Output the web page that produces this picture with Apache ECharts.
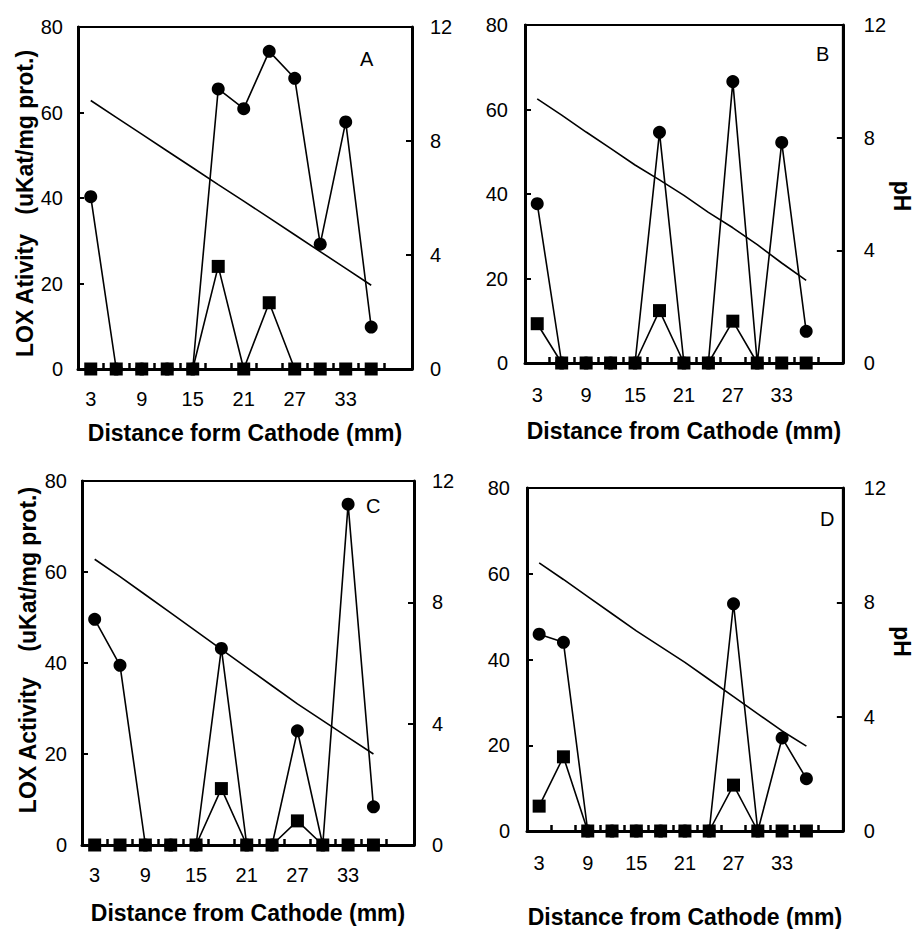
<!DOCTYPE html>
<html><head><meta charset="utf-8">
<script src="https://cdn.jsdelivr.net/npm/echarts@6/dist/echarts.min.js"></script>
<style>html,body{margin:0;padding:0;background:#fff}#c{width:914px;height:929px}</style>
</head><body><div id="c"></div>
<script>
// ---- data ----
const distance = [3, 6, 9, 12, 15, 18, 21, 24, 27, 30, 33, 36];
const xTickValues = [4.5, 7.5, 10.5, 13.5, 16.5, 19.5, 22.5, 25.5, 28.5, 31.5, 34.5, 37.5];
const xLabelValues = [3, 9, 15, 21, 27, 33];
const loxTicks = [0, 20, 40, 60, 80];
const pHTicks = [0, 4, 8, 12];

const circlesA = [40.3, 0, 0, 0, 0, 65.5, 60.9, 74.3, 68.0, 29.2, 57.8, 9.8];
const squaresA = [0, 0, 0, 0, 0, 24.0, 0, 15.5, 0, 0, 0, 0];
const pHA = [9.42, 8.83, 8.24, 7.65, 7.06, 6.47, 5.89, 5.30, 4.71, 4.12, 3.53, 2.94];

const circlesB = [37.7, 0, 0, 0, 0, 54.6, 0, 0, 66.6, 0, 52.2, 7.5];
const squaresB = [9.3, 0, 0, 0, 0, 12.4, 0, 0, 9.9, 0, 0, 0];
const pHB = [9.38, 8.80, 8.20, 7.62, 7.03, 6.50, 5.95, 5.35, 4.80, 4.20, 3.55, 2.93];

const circlesC = [49.6, 39.5, 0, 0, 0, 43.2, 0, 0, 25.1, 0, 74.9, 8.4];
const squaresC = [0, 0, 0, 0, 0, 12.4, 0, 0, 5.3, 0, 0, 0];
const pHC = [9.42, 8.85, 8.25, 7.65, 7.05, 6.45, 5.85, 5.25, 4.65, 4.10, 3.55, 3.00];

const circlesD = [45.9, 44.0, 0, 0, 0, 0, 0, 0, 53.0, 0, 21.7, 12.2];
const squaresD = [5.8, 17.3, 0, 0, 0, 0, 0, 0, 10.7, 0, 0, 0];
const pHD = [9.38, 8.80, 8.20, 7.60, 7.00, 6.45, 5.90, 5.30, 4.70, 4.10, 3.50, 2.97];

const panelLetters = ['A', 'B', 'C', 'D'];
const xTitles = ['Distance form Cathode (mm)', 'Distance from Cathode (mm)', 'Distance from Cathode (mm)', 'Distance from Cathode (mm)'];
const yTitles = ['LOX Ativity   (uKat/mg prot.)', '', 'LOX Activity    (uKat/mg prot.)', ''];
const y2Titles = ['', 'pH', '', 'pH'];

// ---- layout ----
const FONT = "'Liberation Sans', Arial, sans-serif";
const layouts = [
  {left: 78, top: 27, width: 334, height: 342, xmax: 40.8, xLabelMargin: 20, xNameGap: 52, yNameGap: 41, y2NameGap: 38, letter: [367, 60], lMargin: 15, rMargin: 18, yPad: [0, 11, 0, 0], y2Pad: [0,0,0,0]},
  {left: 525, top: 25, width: 319, height: 338, xmax: 40.5, xLabelMargin: 22, xNameGap: 56, yNameGap: 41, y2NameGap: 38, letter: [823, 55], lMargin: 17, rMargin: 21, yPad: [0,0,0,0], y2Pad: [0,0,0,4]},
  {left: 82, top: 481, width: 332, height: 364, xmax: 40.8, xLabelMargin: 20, xNameGap: 56, yNameGap: 43, y2NameGap: 38, letter: [373, 507], lMargin: 15, rMargin: 18, yPad: [0, 0, 0, 26], y2Pad: [0,0,0,0]},
  {left: 527, top: 488, width: 327, height: 343, xmax: 40.5, xLabelMargin: 22, xNameGap: 74, yNameGap: 41, y2NameGap: 40, letter: [827, 520], lMargin: 17, rMargin: 21, yPad: [0,0,0,0], y2Pad: [0,36,0,0]}
];
const datasets = [
  [circlesA, squaresA, pHA],
  [circlesB, squaresB, pHB],
  [circlesC, squaresC, pHC],
  [circlesD, squaresD, pHD]
];

const grids = [], xAxes = [], yAxes = [], series = [], graphics = [];
const black = '#000';
layouts.forEach((L, i) => {
  grids.push({left: L.left, top: L.top, width: L.width, height: L.height, show: true,
    borderColor: black, borderWidth: 2, backgroundColor: 'transparent', containLabel: false});
  xAxes.push({
    gridIndex: i, type: 'value', min: 1.5, max: L.xmax,
    axisLine: {show: true, onZero: false, lineStyle: {color: black, width: 3}},
    axisTick: {show: true, inside: true, length: 6, customValues: xTickValues, lineStyle: {color: black, width: 2.5}},
    axisLabel: {show: true, customValues: xLabelValues, margin: L.xLabelMargin, fontSize: 20, color: black, fontFamily: FONT},
    splitLine: {show: false},
    name: xTitles[i], nameLocation: 'middle', nameGap: L.xNameGap,
    nameTextStyle: {fontSize: 23, fontWeight: 'bold', color: black, fontFamily: FONT}
  });
  yAxes.push({
    gridIndex: i, type: 'value', position: 'left', min: 0, max: 80, interval: 20,
    axisLine: {show: true, onZero: false, lineStyle: {color: black, width: 3}},
    axisTick: {show: true, inside: true, length: 6, lineStyle: {color: black, width: 2}},
    axisLabel: {margin: L.lMargin, fontSize: 20, color: black, fontFamily: FONT},
    splitLine: {show: false},
    name: yTitles[i], nameLocation: 'middle', nameGap: L.yNameGap, nameRotate: 90,
    nameTextStyle: {fontSize: 23, fontWeight: 'bold', color: black, fontFamily: FONT, padding: L.yPad}
  });
  yAxes.push({
    gridIndex: i, type: 'value', position: 'right', min: 0, max: 12, interval: 4,
    axisLine: {show: true, onZero: false, lineStyle: {color: black, width: 3}},
    axisTick: {show: true, inside: true, length: 6, lineStyle: {color: black, width: 2}},
    axisLabel: {margin: L.rMargin, fontSize: 20, color: black, fontFamily: FONT},
    splitLine: {show: false},
    name: y2Titles[i], nameLocation: 'middle', nameGap: L.y2NameGap, nameRotate: -90,
    nameTextStyle: {fontSize: 23, fontWeight: 'bold', color: black, fontFamily: FONT, padding: L.y2Pad}
  });
  const [circ, sq, ph] = datasets[i];
  series.push({
    type: 'line', xAxisIndex: i, yAxisIndex: 2 * i + 1,
    data: distance.map((x, k) => [x, ph[k]]),
    showSymbol: false, symbol: 'none', lineStyle: {color: black, width: 1.6}, silent: true, z: 2
  });
  series.push({
    type: 'line', xAxisIndex: i, yAxisIndex: 2 * i,
    data: distance.map((x, k) => [x, circ[k]]),
    symbol: 'circle', symbolSize: 13, showAllSymbol: true, clip: false,
    itemStyle: {color: black}, lineStyle: {color: black, width: 1.6}, silent: true, z: 3
  });
  series.push({
    type: 'line', xAxisIndex: i, yAxisIndex: 2 * i,
    data: distance.map((x, k) => [x, sq[k]]),
    symbol: 'rect', symbolSize: 13, showAllSymbol: true, clip: false,
    itemStyle: {color: black}, lineStyle: {color: black, width: 1.6}, silent: true, z: 4
  });
  graphics.push({
    type: 'text', left: L.letter[0] - 7, top: L.letter[1] - 11,
    style: {text: panelLetters[i], fontSize: 20, fill: black, fontFamily: FONT}
  });
});

const chart = echarts.init(document.getElementById('c'), null, {renderer: 'svg'});
chart.setOption({
  backgroundColor: '#fff',
  animation: false,
  grid: grids, xAxis: xAxes, yAxis: yAxes, series: series,
  graphic: graphics
});
</script>
</body></html>
